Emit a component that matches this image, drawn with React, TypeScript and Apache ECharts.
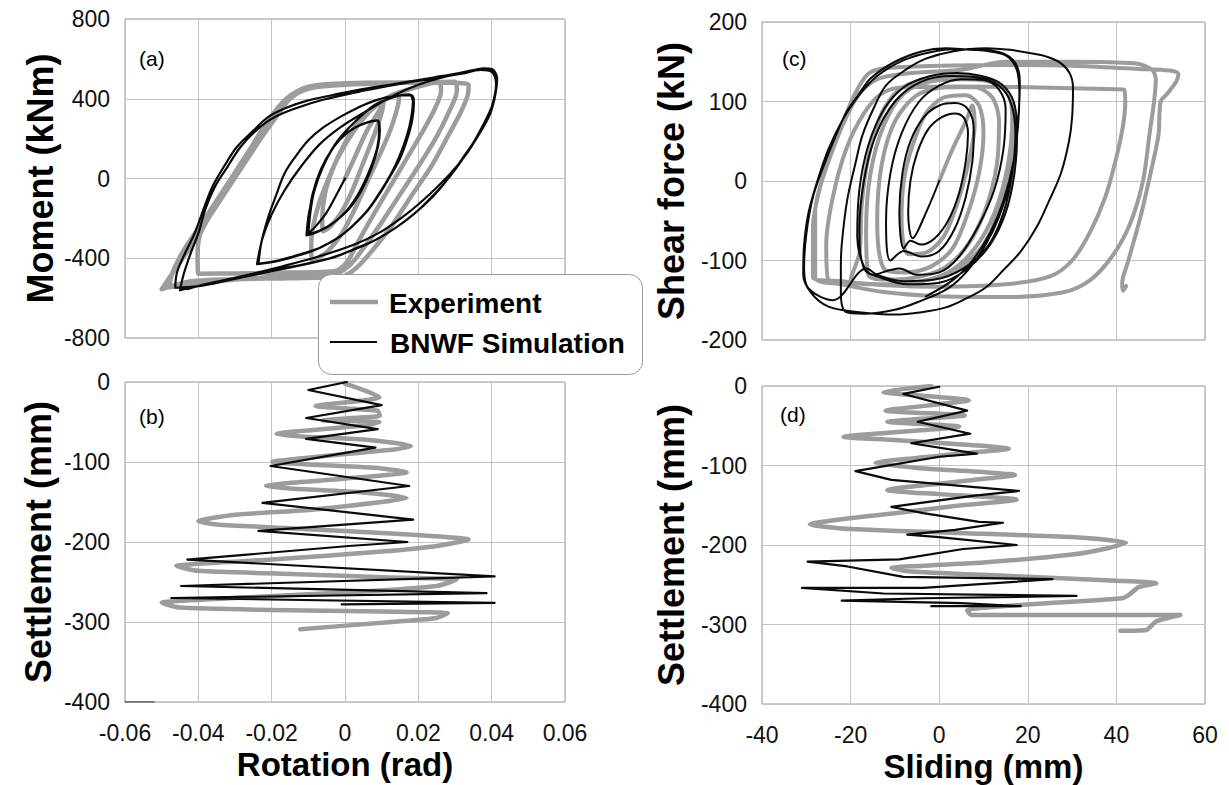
import React, { useEffect, useRef } from 'react';
import * as echarts from 'echarts';

const FONT = "'Liberation Sans', Arial, Helvetica, sans-serif";
const GRAY = '#9c9c9c';
const BLACK = '#0a0a0a';
const GRID_COLOR = '#c4c4c4';
const BORDER = '#999999';

// axis ranges: [min, max, interval]
const rotationAxis = [-0.06, 0.06, 0.02];
const momentAxis = [-800, 800, 400];
const settlementAxis = [-400, 0, 100];
const slidingAxis = [-40, 60, 20];
const shearAxis = [-200, 200, 100];

const legendLabels = ['Experiment', 'BNWF Simulation'];
const panelLabels = ['(a)', '(b)', '(c)', '(d)'];
const titleMoment = 'Moment (kNm)';
const titleShear = 'Shear force (kN)';
const titleSettlement = 'Settlement (mm)';
const titleRotation = 'Rotation (rad)';
const titleSliding = 'Sliding (mm)';

// ---------- (a) Moment vs rotation ----------
const simA_start = [[0, 0], [-0.002, -70], [-0.005, -170], [-0.008, -240], [-0.010, -275]];
const simA_small1 = [[-0.0100, -275], [-0.0095, -180], [-0.0085, -70], [-0.0062, 50], [-0.0030, 160], [0.0010, 235], [0.0050, 275], [0.0089, 292], [0.0095, 245], [0.0090, 160], [0.0072, 50], [0.0045, -60], [0.0010, -155], [-0.0030, -220], [-0.0070, -262], [-0.0102, -280]];
const simA_small2 = [[-0.0098, -185], [-0.0088, -75], [-0.0066, 45], [-0.0034, 150], [0.0006, 230], [0.0048, 272], [0.0087, 290], [0.0093, 240], [0.0088, 155], [0.0068, 45], [0.0040, -65], [0.0005, -160], [-0.0035, -228], [-0.0075, -268], [-0.0105, -285]];
const simA_mid1 = [[-0.0098, -170], [-0.0080, -40], [-0.0055, 80], [-0.0020, 190], [0.0030, 290], [0.0083, 370], [0.0137, 410], [0.0175, 422], [0.0185, 385], [0.0180, 300], [0.0168, 210], [0.0148, 110], [0.0126, 25], [0.0095, -70], [0.0062, -158], [0.0025, -230], [-0.0014, -292], [-0.0065, -345], [-0.0122, -380], [-0.0180, -410], [-0.0236, -428]];
const simA_mid2 = [[-0.0228, -320], [-0.0209, -192], [-0.0188, -85], [-0.0165, 25], [-0.0135, 110], [-0.0100, 192], [-0.0060, 255], [-0.0014, 308], [0.0035, 355], [0.0083, 392], [0.0137, 415], [0.0180, 418], [0.0188, 380], [0.0183, 290], [0.0170, 200], [0.0150, 100], [0.0126, 20], [0.0095, -75], [0.0060, -165], [0.0020, -240], [-0.0020, -298], [-0.0070, -348], [-0.0125, -385], [-0.0185, -415], [-0.0240, -430]];
const simA_big1 = [[-0.0225, -300], [-0.0200, -180], [-0.0165, -60], [-0.0120, 60], [-0.0070, 170], [-0.0010, 260], [0.0060, 340], [0.0137, 420], [0.0200, 470], [0.0260, 505], [0.0320, 528], [0.0370, 545], [0.0400, 535], [0.0412, 470], [0.0400, 358], [0.0380, 270], [0.0354, 192], [0.0318, 90], [0.0278, -8], [0.0235, -95], [0.0190, -175], [0.0140, -245], [0.0083, -308], [0.0020, -360], [-0.0060, -410], [-0.0187, -460], [-0.0317, -510], [-0.0400, -540], [-0.0463, -548]];
const simA_big2 = [[-0.0458, -470], [-0.0435, -370], [-0.0410, -275], [-0.0385, -150], [-0.0362, -42], [-0.0330, 60], [-0.0295, 158], [-0.0250, 240], [-0.0210, 308], [-0.0160, 355], [-0.0100, 392], [-0.0030, 420], [0.0030, 442], [0.0137, 475], [0.0245, 508], [0.0300, 525], [0.0354, 545], [0.0380, 552], [0.0400, 542], [0.0412, 475], [0.0408, 400], [0.0400, 358], [0.0380, 280], [0.0354, 192], [0.0320, 100], [0.0278, -8], [0.0240, -90], [0.0190, -175], [0.0140, -245], [0.0083, -308], [0.0030, -350], [-0.0025, -392], [-0.0100, -425], [-0.0187, -458], [-0.0250, -483], [-0.0317, -508], [-0.0380, -530], [-0.0425, -550], [-0.0450, -560]];
const simA_big3 = [[-0.0440, -480], [-0.0420, -370], [-0.0400, -275], [-0.0380, -150], [-0.0355, -42], [-0.0320, 60], [-0.0285, 158], [-0.0240, 245], [-0.0195, 305], [-0.0130, 355], [-0.0060, 395], [0.0050, 440], [0.0150, 475], [0.0250, 505], [0.0330, 530], [0.0370, 548], [0.0398, 550], [0.0415, 500], [0.0410, 420], [0.0395, 320], [0.0365, 220], [0.0330, 120], [0.0285, 20], [0.0230, -80], [0.0170, -175], [0.0100, -265], [0.0020, -335], [-0.0070, -390], [-0.0170, -440], [-0.0280, -490], [-0.0380, -530], [-0.0430, -555]];
const simA = [...simA_start, ...simA_small1, ...simA_small2, ...simA_mid1, ...simA_mid2, ...simA_big1, ...simA_big2, ...simA_big3];

const expA_1 = [[0, 0], [0.003, 120], [0.006, 240], [0.009, 330], [0.0105, 380], [0.0100, 330], [0.0080, 220], [0.0050, 80], [0.0020, -60], [-0.0010, -170], [-0.0040, -240], [-0.0060, -265], [-0.0062, -200], [-0.0055, -80], [-0.0035, 40], [-0.0005, 160], [0.0030, 270], [0.0070, 350], [0.0110, 395]];
const expA_2 = [[0.0148, 430], [0.0145, 370], [0.0125, 250], [0.0095, 120], [0.0060, -20], [0.0025, -160], [-0.0010, -280], [-0.0050, -370], [-0.0090, -410], [-0.0092, -330], [-0.0088, -250], [-0.0070, -120], [-0.0045, 0], [-0.0015, 120], [0.0025, 240], [0.0070, 340], [0.0120, 410], [0.0180, 450]];
const expA_3 = [[0.0256, 483], [0.0262, 440], [0.0245, 350], [0.0210, 230], [0.0165, 90], [0.0120, -50], [0.0075, -190], [0.0035, -320], [0.0005, -420], [-0.0030, -465], [-0.0150, -472], [-0.0300, -476], [-0.0400, -478], [-0.0402, -380], [-0.0395, -280], [-0.0360, -160], [-0.0320, -40], [-0.0275, 80], [-0.0230, 200], [-0.0187, 310], [-0.0150, 400], [-0.0100, 450], [0.0000, 470], [0.0150, 480], [0.0300, 485]];
const expA_4 = [[0.0305, 440], [0.0285, 340], [0.0250, 210], [0.0200, 60], [0.0150, -80], [0.0100, -220], [0.0050, -350], [0.0010, -440], [-0.0040, -485], [-0.0200, -495], [-0.0350, -515], [-0.0480, -545], [-0.0470, -470], [-0.0440, -360], [-0.0400, -250], [-0.0350, -110], [-0.0300, 30], [-0.0255, 160], [-0.0210, 290], [-0.0160, 400], [-0.0100, 460], [0.0000, 478], [0.0150, 482], [0.0280, 480], [0.0337, 470]];
const expA_5 = [[0.0335, 420], [0.0315, 330], [0.0280, 210], [0.0235, 60], [0.0180, -90], [0.0130, -230], [0.0075, -360], [0.0030, -450], [-0.0010, -492], [-0.0150, -500], [-0.0300, -505], [-0.0420, -515], [-0.0500, -555], [-0.0480, -500], [-0.0450, -420], [-0.0420, -340], [-0.0380, -220], [-0.0330, -80], [-0.0280, 60], [-0.0230, 200], [-0.0190, 320], [-0.0150, 410]];
const expA = [...expA_1, ...expA_2, ...expA_3, ...expA_4, ...expA_5];

// ---------- (b) Settlement vs rotation ----------
const simB = [[0.0005, 0], [-0.0100, -10], [0.0100, -29], [-0.0106, -45], [0.0089, -59], [-0.0106, -71], [0.0083, -82], [0.0008, -88], [-0.0203, -105], [0.0175, -130], [-0.0225, -151], [0.0186, -172], [-0.0236, -186], [0.0170, -200], [0.0010, -205], [-0.0430, -222], [0.0408, -243], [-0.0447, -255], [0.0386, -264], [-0.0474, -270], [0.0408, -276], [-0.0009, -278]];
const simB_tail = [[-0.0600, -400], [-0.0520, -400]];
const expB = [[0, -2], [0.0094, -19], [0.0050, -23], [-0.0080, -30], [0.0089, -36], [0.0095, -42], [0.0020, -45], [-0.0060, -48], [0.0094, -50], [0.0060, -54], [-0.0187, -65], [-0.0120, -68], [0.0050, -72], [0.0180, -80], [0.0140, -84], [0, -90], [-0.0198, -100], [-0.0100, -103], [0.0100, -108], [0.0168, -113], [0.0100, -117], [-0.0215, -130], [-0.0150, -133], [0.0050, -138], [0.0168, -145], [0.0100, -150], [-0.0100, -160], [-0.0300, -166], [-0.0400, -174], [-0.0350, -178], [-0.0100, -184], [0.0150, -190], [0.0337, -197], [0.0250, -205], [0.0100, -212], [-0.0200, -222], [-0.0460, -230], [-0.0400, -236], [-0.0150, -240], [0.0100, -244], [0.0305, -247], [0.0250, -255], [0.0050, -262], [-0.0300, -270], [-0.0500, -276], [-0.0450, -282], [-0.0200, -285], [0.0100, -287], [0.0280, -289], [0.0250, -295], [0.0100, -301], [-0.0122, -309]];

// ---------- (c) Shear force vs sliding ----------
const simC_L1 = [[0, 0], [-3, -40], [-6, -72], [-7, -40], [-6.5, 0], [-5, 35], [-2.5, 65], [0.5, 80], [3.5, 85], [5.5, 80], [6.5, 60], [6, 25], [4.5, -15], [2, -50], [-1, -72], [-4, -80], [-6.5, -75]];
const simC_L2 = [[-8, -85], [-9, -40], [-8.3, 10], [-6.5, 50], [-3.5, 80], [0, 95], [3.5, 98], [6.5, 90], [7.8, 65], [7.5, 25], [6, -20], [3.5, -60], [0, -88], [-4, -95], [-8, -88]];
const simC_L3 = [[-11, -100], [-12, -50], [-11, 10], [-8.5, 60], [-4.5, 100], [0, 120], [5, 128], [10, 127], [13.5, 115], [15, 90], [14.5, 40], [12.5, -10], [9, -55], [4.5, -95], [0, -115], [-5, -118], [-9, -110]];
const simC_L4 = [[-15, -118], [-18.5, -70], [-18, -10], [-16, 45], [-12.5, 90], [-8, 118], [-2, 132], [4, 136], [9.6, 132], [14, 122], [16.8, 100], [17.6, 60], [17, 10], [15, -40], [11.5, -80], [6, -112], [0, -128], [-7, -130], [-13, -122], [-17, -110]];
const simC_L4b = [[-18, -60], [-17, 0], [-14.5, 55], [-10, 100], [-4, 125], [3, 132], [9, 130], [13.5, 120], [16.2, 98], [17.2, 60], [16.5, 10], [14.5, -40], [11, -82], [5.5, -110], [-1, -124], [-8, -126], [-14, -118], [-16.4, -110]];
const simC_L5 = [[-24, -150], [-29.5, -135], [-30.5, -110], [-30, -67], [-28.5, -20], [-26.2, 17], [-23.5, 55], [-20.8, 88], [-18, 110], [-15.5, 129], [-10, 150], [-4, 163], [1.5, 167], [7, 165], [12, 164], [16.7, 152], [18.2, 125], [18, 90], [17.4, 50], [16, 0], [13.5, -45], [10.5, -80], [6.5, -112], [2, -135], [-4.7, -152], [-10, -162], [-17, -167], [-21, -165]];
const simC_L6 = [[-22.2, -140], [-22.2, -110], [-22, -80], [-20.8, -25], [-19, 20], [-17.3, 58], [-14.5, 95], [-11.9, 121], [-7, 142], [-3, 154], [3, 163], [10.5, 167], [16, 165], [20.3, 161], [24.5, 156], [27.5, 148], [29.5, 135], [30.2, 117], [30, 80], [29.3, 50], [27.5, 10], [24.8, -25], [22, -58], [18.5, -88], [14.5, -112], [10.5, -134], [6, -148], [1.5, -159], [-4, -165], [-10, -168], [-18, -165], [-25, -158]];
const simC_L5b = [[-29, -140], [-30.7, -117], [-30.5, -80], [-29.5, -40], [-27.5, 0], [-25, 40], [-22, 75], [-18.5, 105], [-14, 132], [-8, 152], [-2, 162], [4, 166], [10, 164], [15, 158], [17.5, 140], [18.1, 110], [17.8, 70], [16.8, 25], [14.5, -25], [11.5, -65], [7.5, -100], [3, -125], [-3, -145]];
const simC = [...simC_L1, ...simC_L2, ...simC_L3, ...simC_L4, ...simC_L4b, ...simC_L5, ...simC_L6, ...simC_L5b];

const expC_1 = [[0, 0], [3, 40], [6, 75], [7.5, 95], [8, 70], [6.5, 20], [4, -30], [1, -70], [-3, -90], [-7, -92], [-8.5, -50], [-8, 0], [-6, 45], [-3, 85], [1, 105], [6, 108], [9, 95], [10, 60]];
const expC_2 = [[9, 10], [6.5, -40], [3, -85], [-2, -108], [-8, -115], [-12.5, -110], [-14, -50], [-13, 20], [-10, 75], [-5, 108], [2, 118], [8, 118], [12, 105], [13.5, 75]];
const expC_3 = [[13, 20], [10.5, -35], [6.5, -80], [1, -110], [-6, -122], [-12, -124], [-16, -118], [-16.5, -60], [-15.5, 10], [-12.5, 70], [-8, 110], [-2, 125], [6, 128], [12, 124], [15.5, 110], [16.5, 80], [15.5, 20], [12.5, -40], [8, -85], [2, -115], [-6, -128], [-14, -130], [-20, -125]];
const expC_3b = [[-18, -90], [-17.5, -30], [-16, 30], [-13, 85], [-9, 115], [-3, 128], [5, 132], [11, 128], [15, 115], [17, 85], [16.5, 30], [14, -30], [10, -80], [4, -112], [-4, -126], [-12, -130], [-20, -128]];
const expC_4 = [[-25, -125], [-25.5, -80], [-24, -20], [-21, 40], [-17, 85], [-13, 110], [-8, 118], [5, 119], [20, 118], [35, 116], [41.8, 115], [42, 100], [41.5, 70], [40, 30], [37.5, -20], [34, -65], [30, -100], [25, -120], [15, -130], [0, -133], [-12, -131], [-22, -126], [-28.5, -121]];
const expC_5 = [[-28.5, -60], [-27, -10], [-24, 40], [-21, 80], [-18, 110], [-14, 128], [-8, 135], [5, 140], [15, 150], [30, 150], [44, 148], [48, 140], [48.9, 128], [48.5, 100], [47.5, 60], [46, 0], [43, -55], [39, -95], [34, -125], [28, -140], [15, -146], [0, -145], [-12, -140], [-22, -130], [-28, -121]];
const expC_6 = [[-28, -40], [-26, 10], [-22, 70], [-19, 110], [-16, 135], [-12, 142], [0, 145], [15, 146], [30, 145], [45, 141], [52, 139], [54, 135], [53.5, 125], [51.5, 110], [50, 100], [49.5, 58], [48, 17], [45.4, -46], [42.7, -100], [41.3, -129], [41.5, -138], [42.2, -132]];
const expC = [...expC_1, ...expC_2, ...expC_3, ...expC_3b, ...expC_4, ...expC_5, ...expC_6];

// ---------- (d) Settlement vs sliding ----------
const simD = [[0, -1], [-8.1, -10], [6.3, -31], [-4.9, -45], [7, -60], [-6.3, -72], [8.5, -85], [0, -89], [-18.9, -107], [-10.8, -118], [18, -132], [8, -138], [-10.8, -152], [-3.6, -160], [9, -171], [14.4, -172], [3.6, -181], [-7.2, -187], [0, -190], [17.5, -200], [5.4, -205], [-9, -218], [-29.7, -221], [-20.7, -227], [-8.1, -240], [25.6, -243], [-3.6, -254], [-31, -254], [-12.6, -261], [31, -264], [-3.6, -267], [-22, -270], [5, -273], [18.4, -277], [-1.8, -277]];
const expD = [[-1.8, 0], [-12.6, -7.5], [6.7, -18], [-12.1, -31], [5.8, -37], [-11.7, -45], [4.5, -51], [-21.6, -64], [-10, -68], [15.7, -79], [5, -85], [-14.4, -97], [-5, -103], [17.1, -112], [8, -118], [-11.7, -131], [0, -136], [17.5, -143], [5, -150], [-10, -160], [-29.2, -174], [-20, -180], [10, -186], [30, -190], [42.2, -197], [38, -204], [30, -212], [10, -222], [-10.8, -229], [-7.2, -233], [20, -240], [40, -245], [49, -248], [45, -253], [43, -262], [41.3, -267], [25, -273], [6.3, -282], [7.2, -288], [30, -288], [54.4, -288], [49, -296], [46.7, -307], [40.9, -308]];

function lineSeries(name: string, data: number[][], idx: number, color: string, width: number, smooth: number | boolean, z: number) {
  return {
    type: 'line',
    name,
    data,
    xAxisIndex: idx,
    yAxisIndex: idx,
    showSymbol: false,
    symbol: 'none',
    smooth,
    clip: true,
    silent: true,
    z,
    lineStyle: { color, width, join: 'round', cap: 'round' },
    itemStyle: { color },
  };
}

function xAxisCfg(idx: number, range: number[], showLabels: boolean, name: string, fmt?: (v: number) => string) {
  return {
    type: 'value',
    gridIndex: idx,
    min: range[0],
    max: range[1],
    interval: range[2],
    axisLine: { show: false },
    axisTick: { show: false },
    splitLine: { show: true, lineStyle: { color: GRID_COLOR, width: 1 } },
    axisLabel: { show: showLabels, fontSize: 23, color: '#111', fontFamily: FONT, margin: 19, formatter: fmt },
    name,
    nameLocation: 'middle',
    nameGap: 46,
    nameTextStyle: { fontSize: 33, fontWeight: 'bold', color: '#000', fontFamily: FONT },
  };
}

function yAxisCfg(idx: number, range: number[], name: string, gap: number) {
  return {
    type: 'value',
    gridIndex: idx,
    min: range[0],
    max: range[1],
    interval: range[2],
    axisLine: { show: false },
    axisTick: { show: false },
    splitLine: { show: true, lineStyle: { color: GRID_COLOR, width: 1 } },
    axisLabel: { show: true, fontSize: 23, color: '#111', fontFamily: FONT, margin: 15 },
    name,
    nameLocation: 'middle',
    nameGap: gap,
    nameTextStyle: { fontSize: 36, fontWeight: 'bold', color: '#000', fontFamily: FONT },
  };
}

const fmtRot = (v: number) => String(Math.round(v * 100) / 100);
const fmtInt = (v: number) => String(Math.round(v));

function textEl(text: string, x: number, y: number, size: number, bold: boolean) {
  return {
    type: 'text',
    x,
    y,
    z: 101,
    style: {
      text,
      fontSize: size,
      fontWeight: bold ? 'bold' : 'normal',
      fontFamily: FONT,
      fill: '#000',
      align: 'left',
      verticalAlign: 'middle',
      textAlign: 'left',
      textVerticalAlign: 'middle',
    },
  };
}

export default function App() {
  const ref = useRef<HTMLDivElement>(null);
  useEffect(() => {
    if (!ref.current) return;
    const chart = echarts.init(ref.current, undefined, { renderer: 'svg' });
    const option = {
      animation: false,
      backgroundColor: '#ffffff',
      grid: [
        { left: 125, top: 19, width: 440, height: 319, show: true, borderColor: BORDER, borderWidth: 1, backgroundColor: 'transparent' },
        { left: 125, top: 382, width: 440, height: 320, show: true, borderColor: BORDER, borderWidth: 1, backgroundColor: 'transparent' },
        { left: 762, top: 22, width: 443, height: 318, show: true, borderColor: BORDER, borderWidth: 1, backgroundColor: 'transparent' },
        { left: 762, top: 386, width: 443, height: 318, show: true, borderColor: BORDER, borderWidth: 1, backgroundColor: 'transparent' },
      ],
      xAxis: [
        xAxisCfg(0, rotationAxis, false, ''),
        xAxisCfg(1, rotationAxis, true, titleRotation, fmtRot),
        xAxisCfg(2, slidingAxis, false, ''),
        xAxisCfg(3, slidingAxis, true, titleSliding, fmtInt),
      ],
      yAxis: [
        yAxisCfg(0, momentAxis, titleMoment, 67),
        yAxisCfg(1, settlementAxis, titleSettlement, 69),
        yAxisCfg(2, shearAxis, titleShear, 73),
        yAxisCfg(3, settlementAxis, titleSettlement, 73),
      ],
      series: [
        lineSeries(legendLabels[0], expA, 0, GRAY, 4.5, 0.3, 2),
        lineSeries(legendLabels[1], simA, 0, BLACK, 2.2, 0.35, 3),
        lineSeries(legendLabels[0], expB, 1, GRAY, 4.5, 0.2, 2),
        lineSeries(legendLabels[1], simB, 1, BLACK, 2.2, false, 3),
        lineSeries(legendLabels[1], simB_tail, 1, '#555555', 1.5, false, 3),
        lineSeries(legendLabels[0], expC, 2, GRAY, 4, 0.3, 2),
        lineSeries(legendLabels[1], simC, 2, BLACK, 2, 0.35, 3),
        lineSeries(legendLabels[0], expD, 3, GRAY, 4.5, 0.2, 2),
        lineSeries(legendLabels[1], simD, 3, BLACK, 2.2, false, 3),
      ],
      graphic: [
        { type: 'rect', z: 100, shape: { x: 318.5, y: 274.5, width: 324, height: 100, r: 13 }, style: { fill: '#ffffff', stroke: '#999999', lineWidth: 1 } },
        { type: 'line', z: 101, shape: { x1: 330, y1: 302, x2: 378, y2: 302 }, style: { stroke: GRAY, lineWidth: 4.5 } },
        textEl(legendLabels[0], 389, 303, 28, true),
        { type: 'line', z: 101, shape: { x1: 330, y1: 342, x2: 377, y2: 342 }, style: { stroke: BLACK, lineWidth: 2 } },
        textEl(legendLabels[1], 390, 343, 28, true),
        textEl(panelLabels[0], 139, 58, 21, false),
        textEl(panelLabels[1], 139, 416, 21, false),
        textEl(panelLabels[2], 782, 58, 21, false),
        textEl(panelLabels[3], 780, 414, 21, false),
      ],
    };
    chart.setOption(option as any);
    return () => chart.dispose();
  }, []);
  return <div ref={ref} style={{ position: 'absolute', left: 0, top: 0, width: 1229, height: 785 }} />;
}
